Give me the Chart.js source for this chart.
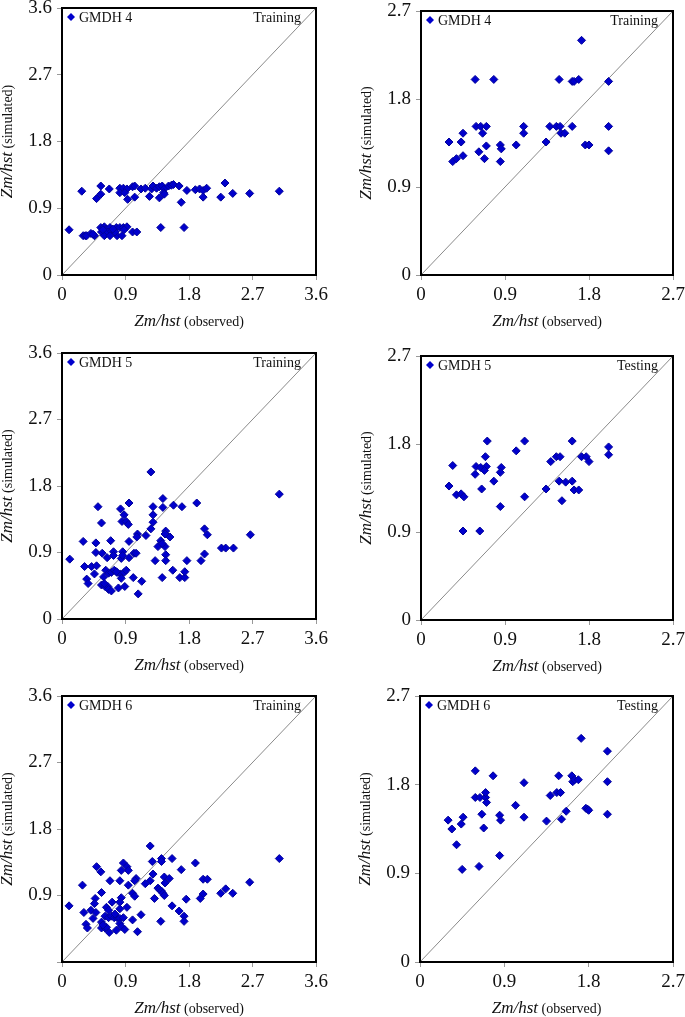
<!DOCTYPE html>
<html>
<head>
<meta charset="utf-8">
<title>GMDH scatter plots</title>
<script src="https://cdn.jsdelivr.net/npm/chart.js@4.4.0/dist/chart.umd.min.js"></script>
<style>
  html, body { margin: 0; padding: 0; background: #fff; }
  body { width: 685px; height: 1017px; position: relative; overflow: hidden; }
  canvas { position: absolute; }
</style>
</head>
<body>
<canvas id="c1"></canvas>
<canvas id="c2"></canvas>
<canvas id="c3"></canvas>
<canvas id="c4"></canvas>
<canvas id="c5"></canvas>
<canvas id="c6"></canvas>
<script>
// axis ticks and 1:1 reference lines
const ticksTrain = [0, 0.9, 1.8, 2.7, 3.6];
const ticksTest = [0, 0.9, 1.8, 2.7];
const lineTrain = [[0, 0], [3.6, 3.6]];
const lineTest = [[0, 0], [2.7, 2.7]];

const xTitle = ["Zm/hst", " (observed)"];
const yTitle = ["Zm/hst", " (simulated)"];

// [observed, simulated] pairs
const gmdh4Train = [
  [0.28,1.13],[0.55,1.20],[0.55,1.09],[0.49,1.03],[0.67,1.16],[0.82,1.17],[0.87,1.17],[0.92,1.16],
  [0.82,1.11],[0.89,1.11],[0.93,1.02],[1.00,1.19],[1.03,1.20],[1.03,1.05],[1.12,1.16],[1.18,1.17],
  [1.24,1.06],[1.27,1.16],[1.29,1.20],[1.34,1.17],[1.38,1.19],[1.42,1.20],[1.45,1.16],[1.38,1.04],
  [1.44,1.11],[1.45,1.09],[1.51,1.20],[1.55,1.21],[1.58,1.22],[1.66,1.20],[1.69,0.98],[1.77,1.14],
  [1.89,1.15],[1.95,1.16],[2.00,1.14],[2.05,1.17],[2.00,1.05],[2.25,1.05],[2.31,1.24],[2.42,1.10],
  [2.66,1.10],[3.08,1.13],
  [0.10,0.61],[0.30,0.53],[0.33,0.53],[0.35,0.53],[0.41,0.56],[0.46,0.53],[0.44,0.55],[0.55,0.64],
  [0.60,0.65],[0.63,0.62],[0.68,0.64],[0.56,0.58],[0.60,0.53],[0.65,0.58],[0.70,0.59],[0.77,0.64],
  [0.82,0.64],[0.87,0.64],[0.92,0.65],[0.78,0.53],[0.85,0.53],[0.75,0.58],[0.68,0.53],[1.00,0.58],
  [1.06,0.58],[1.40,0.64],[1.73,0.64],[0.58,0.61],[0.72,0.62],[0.88,0.61]
];

const gmdh4Test = [
  [1.72,2.40],[0.58,2.00],[0.78,2.00],[1.48,2.00],[1.62,1.98],[1.64,1.98],[1.69,2.00],[2.01,1.98],
  [0.59,1.52],[0.64,1.52],[0.70,1.52],[0.66,1.45],[0.45,1.45],[0.30,1.36],[0.43,1.36],[0.34,1.16],
  [0.38,1.19],[0.45,1.22],[0.62,1.26],[0.70,1.32],[0.68,1.19],[0.85,1.33],[0.86,1.29],[0.85,1.16],
  [1.02,1.33],[1.10,1.52],[1.10,1.45],[1.34,1.36],[1.38,1.52],[1.45,1.52],[1.49,1.52],[1.50,1.45],
  [1.54,1.45],[1.62,1.52],[1.76,1.33],[1.80,1.33],[2.01,1.52],[2.01,1.27]
];

const gmdh5Train = [
  [1.26,1.99],[3.08,1.69],[0.51,1.52],[0.95,1.57],[0.83,1.49],[0.88,1.41],[0.85,1.32],[0.91,1.32],
  [0.94,1.28],[0.56,1.30],[1.29,1.52],[1.43,1.63],[1.43,1.51],[1.58,1.54],[1.70,1.52],[1.91,1.57],
  [1.29,1.41],[1.29,1.31],[1.26,1.22],[1.07,1.15],[1.06,1.11],[1.19,1.13],[1.47,1.19],[1.46,1.15],
  [1.40,1.06],[1.53,1.11],[1.36,0.98],[1.46,0.98],[1.42,1.02],[1.47,0.87],[1.47,0.79],[1.32,0.79],
  [2.02,1.22],[2.06,1.14],[2.67,1.14],[2.26,0.96],[2.32,0.96],[2.43,0.96],[2.02,0.88],[1.97,0.79],
  [1.77,0.79],[1.57,0.66],[1.42,0.56],[1.67,0.56],[1.74,0.56],[1.74,0.64],[0.30,1.05],[0.48,1.03],
  [0.69,1.06],[0.95,1.05],[0.48,0.90],[0.57,0.89],[0.73,0.91],[0.86,0.91],[0.64,0.83],[0.73,0.86],
  [0.84,0.82],[0.86,0.86],[0.95,0.83],[1.02,0.89],[1.05,0.89],[0.11,0.81],[0.32,0.71],[0.42,0.71],
  [0.49,0.72],[0.46,0.61],[0.62,0.66],[0.66,0.62],[0.70,0.63],[0.74,0.66],[0.78,0.63],[0.83,0.61],
  [0.88,0.63],[0.91,0.66],[0.59,0.57],[0.35,0.54],[0.37,0.48],[0.56,0.46],[0.61,0.44],[0.65,0.44],
  [0.66,0.40],[0.70,0.38],[0.80,0.42],[0.89,0.44],[1.01,0.56],[1.13,0.51],[1.08,0.34],[0.84,0.55],
  [0.60,0.48],[0.77,0.64]
];

const gmdh5Test = [
  [0.71,1.83],[1.11,1.83],[1.62,1.83],[1.02,1.73],[0.69,1.67],[2.01,1.77],[2.01,1.69],[1.72,1.67],
  [1.77,1.67],[1.80,1.62],[1.39,1.62],[1.45,1.67],[1.49,1.67],[0.34,1.58],[0.59,1.57],[0.64,1.56],
  [0.70,1.57],[0.68,1.53],[0.58,1.49],[0.86,1.56],[0.85,1.51],[0.78,1.42],[0.30,1.37],[0.38,1.28],
  [0.43,1.29],[0.46,1.26],[0.65,1.34],[0.85,1.16],[1.11,1.26],[0.45,0.91],[0.63,0.91],[1.34,1.34],
  [1.48,1.42],[1.55,1.41],[1.62,1.42],[1.64,1.33],[1.69,1.33],[1.51,1.22]
];

const gmdh6Train = [
  [1.25,1.57],[3.08,1.40],[0.49,1.29],[0.55,1.22],[0.87,1.34],[0.92,1.29],[0.94,1.24],[0.84,1.24],
  [1.28,1.36],[1.41,1.40],[1.41,1.36],[1.56,1.40],[1.89,1.34],[1.69,1.25],[1.29,1.19],[1.05,1.13],
  [1.03,1.10],[1.25,1.10],[1.18,1.06],[1.45,1.15],[1.52,1.13],[1.46,1.07],[1.36,1.00],[1.38,0.98],
  [1.41,0.96],[1.43,0.93],[1.45,0.90],[1.31,0.86],[2.00,1.12],[2.06,1.12],[2.66,1.08],[2.25,0.93],
  [2.32,0.99],[2.42,0.93],[2.00,0.92],[1.96,0.86],[1.76,0.85],[1.56,0.76],[1.66,0.69],[1.73,0.62],
  [1.73,0.55],[1.40,0.55],[0.29,1.04],[0.68,1.10],[0.82,1.10],[0.94,1.04],[0.56,0.94],[1.00,0.93],
  [1.03,0.89],[0.47,0.86],[0.46,0.79],[0.71,0.81],[0.84,0.87],[0.82,0.81],[0.10,0.76],[0.63,0.74],
  [0.82,0.72],[0.92,0.74],[0.41,0.70],[0.48,0.67],[0.31,0.67],[0.44,0.59],[0.34,0.51],[0.36,0.46],
  [0.61,0.62],[0.66,0.60],[0.70,0.62],[0.74,0.60],[0.78,0.60],[0.82,0.59],[0.87,0.60],[0.82,0.52],
  [0.84,0.48],[0.56,0.54],[0.56,0.46],[0.61,0.46],[0.63,0.47],[0.67,0.40],[0.77,0.43],[0.89,0.44],
  [1.00,0.57],[1.12,0.64],[1.07,0.41],[0.75,0.65],[0.58,0.50],[0.66,0.70]
];

const gmdh6Test = [
  [1.72,2.27],[2.00,2.14],[0.59,1.94],[0.78,1.89],[1.48,1.89],[1.62,1.89],[1.63,1.83],[1.65,1.85],
  [1.69,1.85],[2.00,1.83],[1.11,1.82],[1.39,1.69],[1.46,1.72],[1.50,1.72],[0.59,1.67],[0.64,1.67],
  [0.70,1.67],[0.70,1.72],[0.71,1.62],[1.02,1.59],[1.77,1.56],[1.79,1.55],[1.80,1.54],[1.56,1.53],
  [2.00,1.50],[0.30,1.44],[0.46,1.47],[0.66,1.50],[0.85,1.49],[0.86,1.44],[1.11,1.47],[1.35,1.43],
  [1.51,1.45],[0.44,1.40],[0.34,1.35],[0.68,1.36],[0.39,1.19],[0.85,1.08],[0.45,0.94],[0.63,0.97]
];

// plot box in page pixels: left, top, right, bottom
const panels = [
  { id: "c1", name: "GMDH 4", tag: "Training", pts: gmdh4Train, ticks: ticksTrain, line: lineTrain, box: [62, 8, 316, 275], col: 0 },
  { id: "c2", name: "GMDH 4", tag: "Training", pts: gmdh4Test,  ticks: ticksTest,  line: lineTest,  box: [421, 11, 673, 275], col: 1 },
  { id: "c3", name: "GMDH 5", tag: "Training", pts: gmdh5Train, ticks: ticksTrain, line: lineTrain, box: [62, 353, 316, 619], col: 0 },
  { id: "c4", name: "GMDH 5", tag: "Testing",  pts: gmdh5Test,  ticks: ticksTest,  line: lineTest,  box: [421, 356, 673, 620], col: 1 },
  { id: "c5", name: "GMDH 6", tag: "Training", pts: gmdh6Train, ticks: ticksTrain, line: lineTrain, box: [62, 696, 316, 962], col: 0, noY0: true },
  { id: "c6", name: "GMDH 6", tag: "Testing",  pts: gmdh6Test,  ticks: ticksTest,  line: lineTest,  box: [420, 696, 673, 962], col: 1 }
];

const BLUE = "#0000cc";
const SERIF = "'Liberation Serif', 'Times New Roman', serif";

function drawMixed(ctx, parts, x, y) {
  // parts: [italic piece, upright piece], centered on x, baseline y
  const fonts = ["italic 17px " + SERIF, "14px " + SERIF];
  let w = 0;
  const widths = parts.map((t, i) => { ctx.font = fonts[i]; const m = ctx.measureText(t).width; w += m; return m; });
  let cx = x - w / 2;
  parts.forEach((t, i) => {
    ctx.font = fonts[i];
    ctx.fillText(t, cx, y);
    cx += widths[i];
  });
}

const decor = {
  id: "decor",
  afterDraw(chart) {
    const p = chart.options.plugins.decor;
    const a = chart.chartArea;
    const ctx = chart.ctx;
    ctx.save();

    // plot frame
    ctx.strokeStyle = "#000";
    ctx.lineWidth = 2;
    ctx.strokeRect(a.left, a.top, a.right - a.left, a.bottom - a.top);

    // legend inside the plot
    const lx = a.left + 9, ly = a.top + 9;
    ctx.fillStyle = BLUE;
    ctx.beginPath();
    ctx.moveTo(lx - 4, ly); ctx.lineTo(lx, ly - 4); ctx.lineTo(lx + 4, ly); ctx.lineTo(lx, ly + 4);
    ctx.closePath();
    ctx.fill();
    ctx.fillStyle = "#111";
    ctx.font = "14px " + SERIF;
    ctx.textBaseline = "middle";
    ctx.textAlign = "left";
    ctx.fillText(p.name, lx + 8, ly + 1);
    ctx.textAlign = "right";
    ctx.fillText(p.tag, a.right - 15, ly + 1);

    // axis titles
    ctx.textAlign = "left";
    ctx.textBaseline = "alphabetic";
    ctx.fillStyle = "#111";
    drawMixed(ctx, xTitle, (a.left + a.right) / 2, a.bottom + 51);
    ctx.translate(a.left - 50, (a.top + a.bottom) / 2);
    ctx.rotate(-Math.PI / 2);
    drawMixed(ctx, yTitle, 0, 0);
    ctx.restore();
  }
};

panels.forEach(p => {
  const [L, T, R, B] = p.box;
  const cv = document.getElementById(p.id);
  const cx = p.col === 0 ? 0 : 340;
  const cw = p.col === 0 ? 340 : 360;
  const cy = T - 22;
  const ch = B + 62 - cy;
  cv.width = cw;
  cv.height = ch;
  cv.style.left = cx + "px";
  cv.style.top = cy + "px";

  const top = p.ticks[p.ticks.length - 1];
  const tickFont = { family: SERIF, size: 19 };
  const grid = { display: true, drawOnChartArea: false, drawTicks: true, tickLength: 5, color: "#999", lineWidth: 1 };

  new Chart(cv, {
    type: "scatter",
    data: {
      datasets: [
        {
          data: p.pts.map(([x, y]) => ({ x, y })),
          pointStyle: "rectRot",
          pointRadius: 4,
          pointBackgroundColor: BLUE,
          pointBorderColor: "#00009a",
          pointBorderWidth: 1
        },
        {
          data: p.line.map(([x, y]) => ({ x, y })),
          showLine: true,
          borderColor: "#8a8a8a",
          borderWidth: 1,
          pointRadius: 0
        }
      ]
    },
    options: {
      responsive: false,
      animation: false,
      events: [],
      layout: { padding: { left: 0, top: T - cy, right: cx + cw - R, bottom: 0 } },
      plugins: {
        legend: { display: false },
        tooltip: { enabled: false },
        decor: { name: p.name, tag: p.tag }
      },
      scales: {
        x: {
          type: "linear", min: 0, max: top,
          grid: grid, border: { display: false },
          afterFit: s => { s.height = cy + ch - B; },
          afterBuildTicks: s => { s.ticks = p.ticks.map(v => ({ value: v })); },
          ticks: { font: tickFont, color: "#111", padding: 4, maxRotation: 0,
                   callback: v => v === 0 ? "0" : v.toFixed(1) }
        },
        y: {
          type: "linear", min: 0, max: top,
          grid: grid, border: { display: false },
          afterFit: s => { s.width = L - cx; },
          afterBuildTicks: s => { s.ticks = p.ticks.map(v => ({ value: v })); },
          ticks: { font: tickFont, color: "#111", padding: 5,
                   callback: v => v === 0 ? (p.noY0 ? "" : "0") : v.toFixed(1) }
        }
      }
    },
    plugins: [decor]
  });
});
</script>
</body>
</html>
